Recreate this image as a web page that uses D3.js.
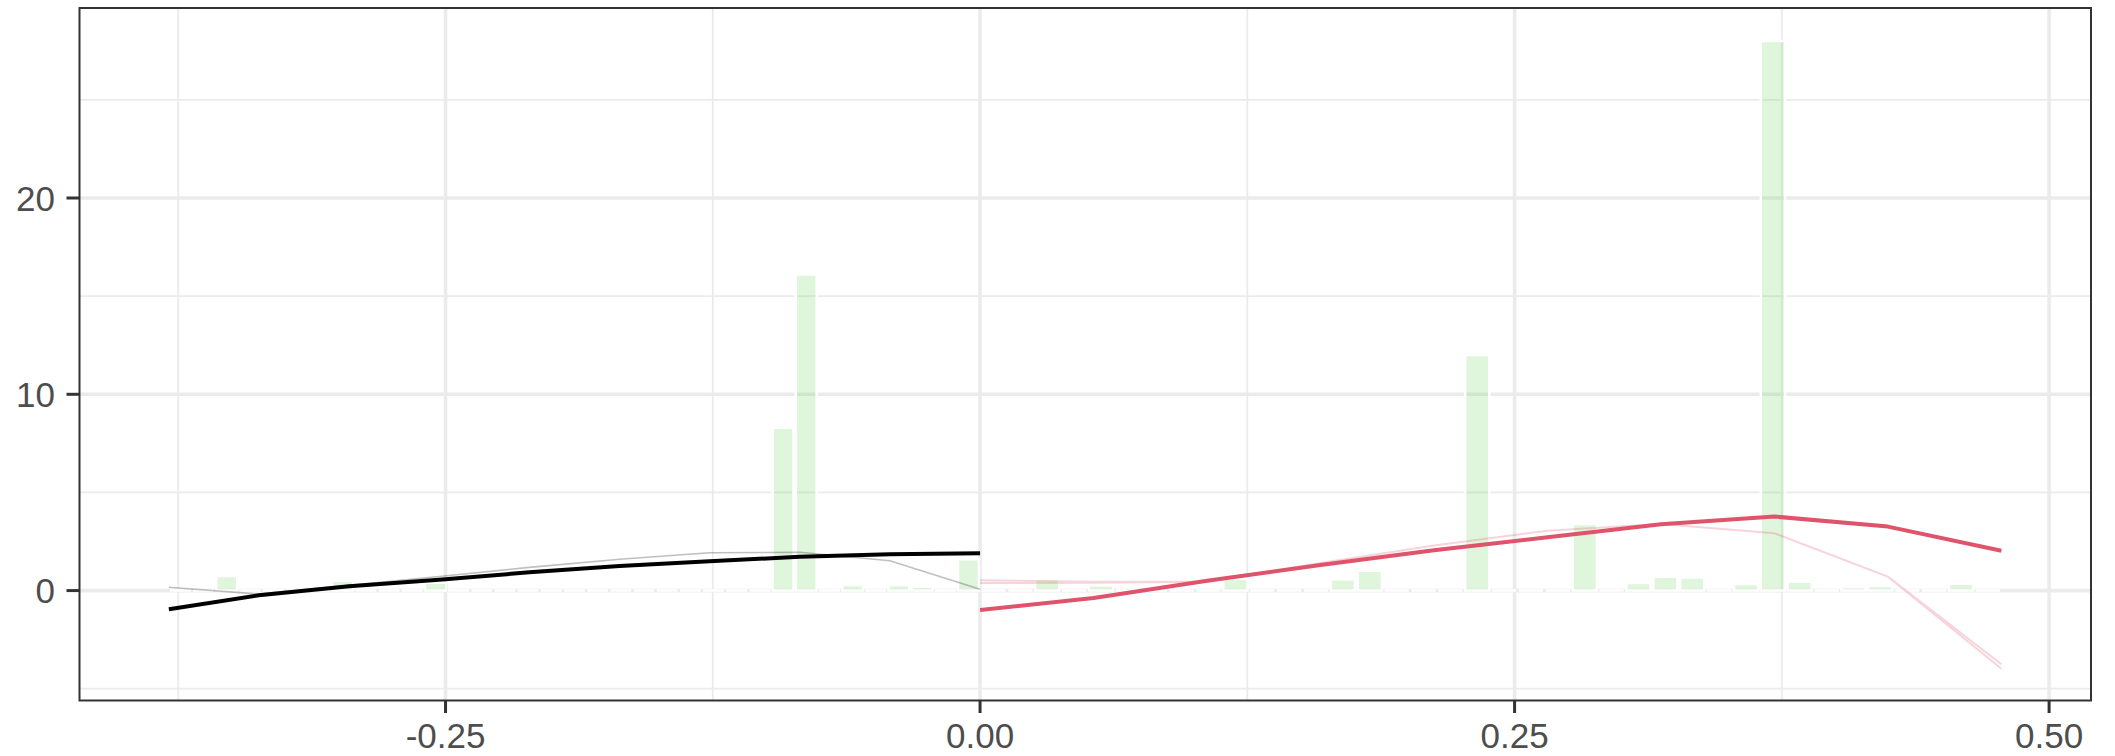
<!DOCTYPE html>
<html>
<head>
<meta charset="utf-8">
<script src="https://cdn.jsdelivr.net/npm/d3@7"></script>
<style>
  html, body { margin: 0; padding: 0; background: #ffffff; }
  svg { display: block; }
</style>
</head>
<body>
<svg id="chart" width="2115" height="756"></svg>
<script>
// ---------------- data ----------------
// histogram bins, left side (x < 0)
const leftBinWidth = 0.01084;
const leftBinCenters = [-0.37398, -0.36314, -0.35230, -0.34146, -0.33062, -0.31978, -0.30894, -0.29810,
  -0.28726, -0.27642, -0.26558, -0.25474, -0.24390, -0.23306, -0.22222, -0.21138, -0.20054, -0.18970,
  -0.17886, -0.16802, -0.15718, -0.14634, -0.13550, -0.12466, -0.11382, -0.10298, -0.09214, -0.08130,
  -0.07046, -0.05962, -0.04878, -0.03794, -0.02710, -0.01626, -0.00542];
const leftBinValues = [0, 0, 0.74, 0, 0, 0, 0, 0.5,
  0, 0, 0, 0.4, 0, 0, 0, 0, 0, 0,
  0, 0, 0, 0, 0, 0, 0, 0, 8.3, 16.1,
  0, 0.29, 0, 0.29, 0.2, 0, 1.6];

// histogram bins, right side (x > 0)
const rightBinWidth = 0.01257;
const rightBinCenters = [0.00629, 0.01886, 0.03143, 0.04400, 0.05657, 0.06914, 0.08171, 0.09428,
  0.10685, 0.11942, 0.13199, 0.14456, 0.15713, 0.16970, 0.18227, 0.19484, 0.20741, 0.21998,
  0.23255, 0.24512, 0.25769, 0.27026, 0.28283, 0.29540, 0.30797, 0.32054, 0.33311, 0.34568,
  0.35825, 0.37082, 0.38339, 0.39596, 0.40853, 0.42110, 0.43367, 0.44624, 0.45881, 0.47138];
const rightBinValues = [0, 0, 0.58, 0, 0.27, 0, 0, 0,
  0, 0.6, 0, 0, 0, 0.58, 1.01, 0, 0, 0,
  12.0, 0, 0, 0, 3.39, 0, 0.39, 0.71, 0.66, 0,
  0.34, 28.0, 0.45, 0, 0.18, 0.23, 0, 0, 0.35, 0];

// fitted lines, left side
const leftX  = [-0.3794, -0.3373, -0.2951, -0.2530, -0.2108, -0.1686, -0.1265, -0.0843, -0.0422, 0];
const blackY = [-0.95, -0.24, 0.22, 0.55, 0.93, 1.25, 1.50, 1.72, 1.85, 1.90];
const greyY  = [0.17, -0.18, 0.27, 0.72, 1.18, 1.60, 1.93, 1.95, 1.52, 0.07];

// fitted lines, right side
const rightX = [0, 0.0531, 0.1062, 0.1592, 0.2123, 0.2654, 0.3185, 0.3716, 0.4246, 0.4777];
const redY   = [-0.99, -0.38, 0.50, 1.30, 2.05, 2.72, 3.38, 3.77, 3.26, 2.03];
const pinkY  = [0.52, 0.45, 0.45, 1.40, 2.30, 3.05, 3.39, 2.92, 0.71, -3.75];
const pink2Y = [0.38, 0.40, 0.45, 1.40, 2.30, 3.05, 3.39, 2.92, 0.71, -3.98];

// axes
const xMajorTicks = [-0.25, 0, 0.25, 0.5];
const xTickLabels = ["-0.25", "0.00", "0.25", "0.50"];
const xMinorTicks = [-0.375, -0.125, 0.125, 0.375];
const yMajorTicks = [0, 10, 20];
const yTickLabels = ["0", "10", "20"];
const yMinorTicks = [-5, 5, 15, 25];

// ---------------- layout ----------------
const panel = { left: 79.5, right: 2091, top: 8, bottom: 700.5 };
const x = d3.scaleLinear().domain([-0.4212, 0.5196]).range([panel.left, panel.right]);
const y = d3.scaleLinear().domain([-5.60, 29.68]).range([panel.bottom, panel.top]);

const svg = d3.select("#chart");
svg.append("rect").attr("width", 2115).attr("height", 756).attr("fill", "#ffffff");

const gridColor = "#ebebeb";
const grid = svg.append("g");
// minor grid
grid.selectAll(".xminor").data(xMinorTicks).enter().append("line")
  .attr("x1", d => x(d)).attr("x2", d => x(d))
  .attr("y1", panel.top).attr("y2", panel.bottom)
  .attr("stroke", gridColor).attr("stroke-width", 1.8);
grid.selectAll(".yminor").data(yMinorTicks).enter().append("line")
  .attr("x1", panel.left).attr("x2", panel.right)
  .attr("y1", d => y(d)).attr("y2", d => y(d))
  .attr("stroke", gridColor).attr("stroke-width", 1.8);
// major grid
grid.selectAll(".xmajor").data(xMajorTicks).enter().append("line")
  .attr("x1", d => x(d)).attr("x2", d => x(d))
  .attr("y1", panel.top).attr("y2", panel.bottom)
  .attr("stroke", gridColor).attr("stroke-width", 3.6);
grid.selectAll(".ymajor").data(yMajorTicks).enter().append("line")
  .attr("x1", panel.left).attr("x2", panel.right)
  .attr("y1", d => y(d)).attr("y2", d => y(d))
  .attr("stroke", gridColor).attr("stroke-width", 3.6);

// ---------------- bars ----------------
const bars = [];
leftBinCenters.forEach((c, i) => bars.push({ c: c, w: leftBinWidth, v: leftBinValues[i] }));
rightBinCenters.forEach((c, i) => bars.push({ c: c, w: rightBinWidth, v: rightBinValues[i] }));

svg.append("g").selectAll("path").data(bars).enter().append("path")
  .attr("d", d => {
    const x0 = x(d.c - 0.45 * d.w), x1 = x(d.c + 0.45 * d.w);
    const y0 = y(0), y1 = y(d.v);
    return `M${x0},${y0}L${x1},${y0}L${x1},${y1}L${x0},${y1}Z`;
  })
  .attr("fill", "rgba(97,208,79,0.2)")
  .attr("stroke", "#ffffff")
  .attr("stroke-width", 2.5)
  .attr("stroke-linejoin", "miter");

// ---------------- lines ----------------
const line = d3.line().x(d => x(d[0])).y(d => y(d[1]));
function drawLines(xs, ysList, color, width) {
  // several polylines in one path, so a translucent stroke is not compounded where they overlap
  const d = ysList.map(ys => line(xs.map((v, i) => [v, ys[i]]))).join("");
  svg.append("path")
    .attr("d", d)
    .attr("fill", "none")
    .attr("stroke", color)
    .attr("stroke-width", width)
    .attr("stroke-linejoin", "round")
    .attr("stroke-linecap", "butt");
}
drawLines(leftX, [greyY], "rgba(0,0,0,0.25)", 1.6);
drawLines(rightX, [pinkY, pink2Y], "rgba(223,83,107,0.25)", 2);
drawLines(leftX, [blackY], "#000000", 4);
drawLines(rightX, [redY], "#DF536B", 4);

// ---------------- panel border & axes ----------------
svg.append("rect")
  .attr("x", panel.left).attr("y", panel.top)
  .attr("width", panel.right - panel.left).attr("height", panel.bottom - panel.top)
  .attr("fill", "none").attr("stroke", "#333333").attr("stroke-width", 2);

const axisColor = "#333333";
const textColor = "#4d4d4d";
const font = "'Liberation Sans', Arial, Helvetica, sans-serif";

svg.append("g").selectAll("line").data(xMajorTicks).enter().append("line")
  .attr("x1", d => x(d)).attr("x2", d => x(d))
  .attr("y1", panel.bottom).attr("y2", panel.bottom + 12.5)
  .attr("stroke", axisColor).attr("stroke-width", 3);
svg.append("g").selectAll("text").data(xMajorTicks).enter().append("text")
  .attr("x", d => x(d)).attr("y", 747.5)
  .attr("text-anchor", "middle")
  .attr("font-family", font).attr("font-size", 35).attr("fill", textColor)
  .text((d, i) => xTickLabels[i]);

svg.append("g").selectAll("line").data(yMajorTicks).enter().append("line")
  .attr("x1", panel.left - 13).attr("x2", panel.left)
  .attr("y1", d => y(d)).attr("y2", d => y(d))
  .attr("stroke", axisColor).attr("stroke-width", 3);
svg.append("g").selectAll("text").data(yMajorTicks).enter().append("text")
  .attr("x", 55).attr("y", d => y(d)).attr("dy", "0.36em")
  .attr("text-anchor", "end")
  .attr("font-family", font).attr("font-size", 35).attr("fill", textColor)
  .text((d, i) => yTickLabels[i]);
</script>
</body>
</html>
